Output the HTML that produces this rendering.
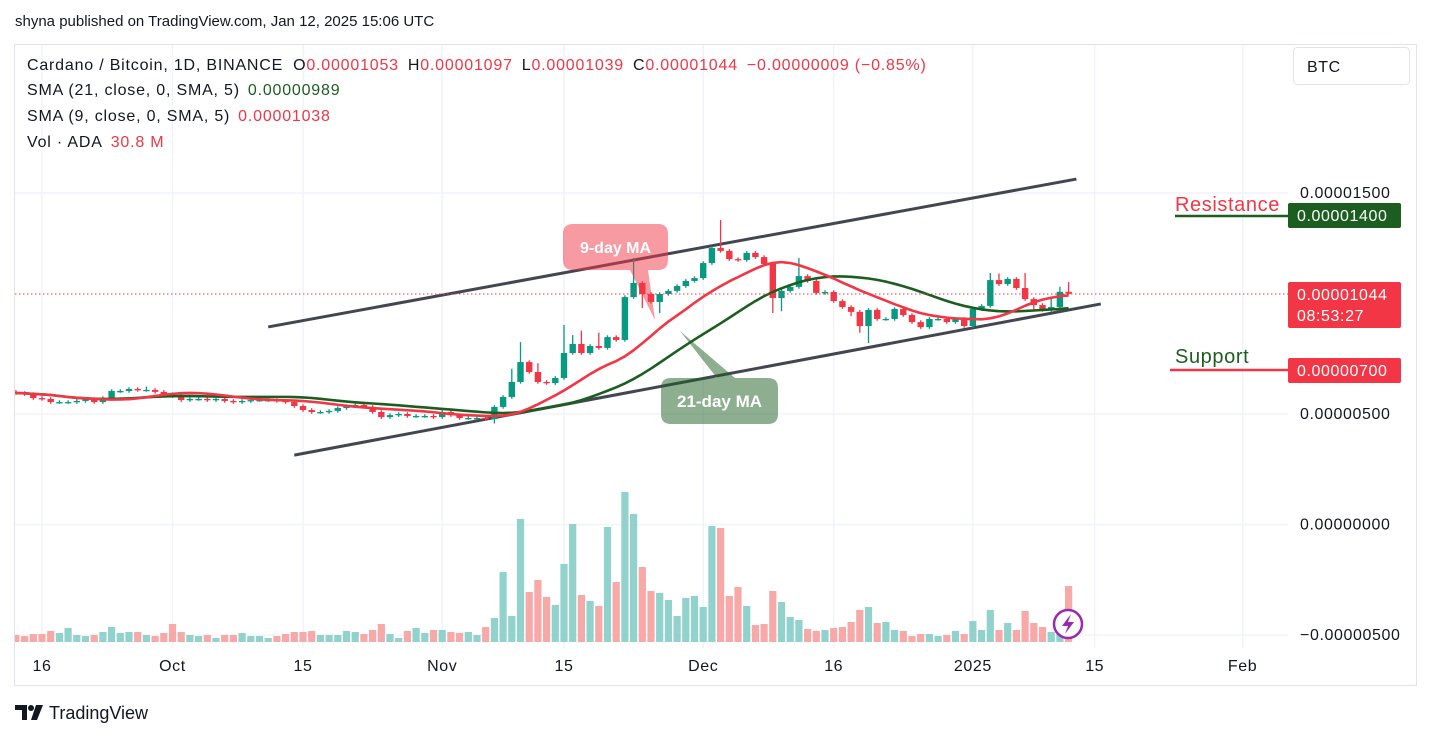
<!DOCTYPE html>
<html><head><meta charset="utf-8"><style>
html,body{margin:0;padding:0;background:#fff;}
body{width:1431px;height:738px;overflow:hidden;font-family:"Liberation Sans",Arial,sans-serif;}
svg text{font-family:"Liberation Sans",Arial,sans-serif;}
.w{letter-spacing:0.8px;}
.a{letter-spacing:0.6px;}
</style></head><body>
<svg id="chart" width="1431" height="738" viewBox="0 0 1431 738" xmlns="http://www.w3.org/2000/svg">
<defs><clipPath id="plot"><rect x="15" y="45" width="1273" height="600"/></clipPath></defs>
<rect x="0" y="0" width="1431" height="738" fill="#fff"/>
<text x="15" y="26" font-size="15" fill="#131722">shyna published on TradingView.com, Jan 12, 2025 15:06 UTC</text>
<rect x="14.5" y="44.5" width="1402" height="641" fill="none" stroke="#e0e3eb"/>
<g id="grid"></g>
<g id="vol" clip-path="url(#plot)"></g>
<g id="trend"></g>
<g id="candles" clip-path="url(#plot)"></g>
<g id="ma" clip-path="url(#plot)"></g>
<line x1="15" y1="294" x2="1288" y2="294" stroke="#f23645" stroke-width="1" stroke-dasharray="1.5,2.5"/>
<g font-size="16" class="w">
<text x="27" y="70" fill="#131722">Cardano / Bitcoin, 1D, BINANCE<tspan dx="10">O</tspan><tspan fill="#f23645">0.00001053</tspan><tspan dx="9">H</tspan><tspan fill="#f23645">0.00001097</tspan><tspan dx="9">L</tspan><tspan fill="#f23645">0.00001039</tspan><tspan dx="9">C</tspan><tspan fill="#f23645">0.00001044</tspan><tspan dx="9" fill="#f23645">−0.00000009 (−0.85%)</tspan></text>
<text x="27" y="95" fill="#131722">SMA (21, close, 0, SMA, 5)<tspan dx="8" fill="#1b5e20">0.00000989</tspan></text>
<text x="27" y="121" fill="#131722">SMA (9, close, 0, SMA, 5)<tspan dx="8" fill="#f23645">0.00001038</tspan></text>
<text x="27" y="147" fill="#131722">Vol · ADA<tspan dx="8" fill="#f23645">30.8 M</tspan></text>
</g>
<g>
<rect x="1293.5" y="47.5" width="116" height="37" rx="4" fill="#fff" stroke="#e0e3eb"/>
<text x="1307" y="72" font-size="16" class="a" fill="#131722">BTC</text>
</g>
<g id="yaxis" font-size="16" class="a" fill="#131722"></g>
<g id="xaxis" font-size="16" class="a" fill="#131722"></g>
<g>
<text x="1175" y="211" font-size="20" class="a" fill="#f23645">Resistance</text>
<line x1="1175" y1="216" x2="1288" y2="216" stroke="#1b5e20" stroke-width="2.5"/>
<rect x="1288" y="203" width="113" height="25" rx="2" fill="#1b5e20"/>
<text x="1297" y="221" font-size="16" class="a" fill="#fff">0.00001400</text>
</g>
<g>
<text x="1175" y="363" font-size="20" class="a" fill="#1b5e20">Support</text>
<line x1="1170" y1="370" x2="1288" y2="370" stroke="#f23645" stroke-width="2.5"/>
<rect x="1288" y="358" width="113" height="25" rx="2" fill="#f23645"/>
<text x="1297" y="376" font-size="16" class="a" fill="#fff">0.00000700</text>
</g>
<g>
<rect x="1288" y="282" width="113" height="46" rx="2" fill="#f23645"/>
<text x="1297" y="300" font-size="16" class="a" fill="#fff">0.00001044</text>
<text x="1297" y="321" font-size="16" class="a" fill="#fff">08:53:27</text>
</g>
<g>
<path d="M573,224 H658 Q668,224 668,234 V260 Q668,270 658,270 H648 L655,320 L630,270 H573 Q563,270 563,260 V234 Q563,224 573,224 Z" fill="#f23645" fill-opacity="0.5"/>
<text x="615.5" y="253" font-size="16" font-weight="bold" fill="#fff" text-anchor="middle">9-day MA</text>
</g>
<g>
<path d="M671,378 H717 L680,331 L735,378 H768 Q778,378 778,388 V414 Q778,424 768,424 H671 Q661,424 661,414 V388 Q661,378 671,378 Z" fill="#1b5e20" fill-opacity="0.5"/>
<text x="719.5" y="407" font-size="17" font-weight="bold" fill="#fff" text-anchor="middle">21-day MA</text>
</g>
<g>
<circle cx="1068" cy="624" r="14" fill="#fff" stroke="#9c27b0" stroke-width="2.5"/>
<path d="M1071,614 L1062,626 H1068 L1065,634 L1074,622 H1068 Z" fill="#9c27b0"/>
</g>
<g>
<path d="M15,705 H27 V720 H22 V710 H15 Z" fill="#131722"/>
<circle cx="31" cy="708" r="3" fill="#131722"/>
<path d="M36,705 H43 L37,720 H31 Z" fill="#131722"/>
<text x="49" y="719" font-size="18" fill="#131722">TradingView</text>
</g>
</svg>
<script>
// ---- data (prices in 1e-8 BTC, volume in units of ~0.55M ADA) ----
const startDay = -3; // day offset from Sep 16, 2024 of first candle
const closes = [595,590,572,568,554,554,554,559,568,554,572,604,604,613,609,609,600,590,581,563,568,568,563,568,559,554,559,563,563,563,559,554,536,518,509,509,514,527,536,541,532,509,486,495,500,491,491,491,486,509,495,482,482,482,477,
532,577,645,735,690,645,640,663,776,817,776,808,799,848,835,1029,1093,1043,1007,1043,1057,1079,1102,1115,1183,1251,1238,1201,1197,1229,1210,1179,1025,1057,1075,1124,1102,1048,1052,1011,984,962,898,971,930,930,975,948,916,893,930,930,916,930,898,975,989,1106,1088,1111,1070,1020,993,971,984,1053,1044];
const firstOpen = 600;
const wickUp = [8,8,8,8,8,8,8,8,8,8, 8,8,8,8,8,15,8,8,8,8, 8,8,8,8,8,8,8,8,8,8, 8,8,8,8,8,8,8,8,8,8, 8,8,8,8,8,8,8,8,8,8,
8,8,8,8,8,8,8,60,90,8, 40,8,8,127,40,60,8,60,8,8, 8,113,8,8,8,8,8,8,8,8, 8,127,8,8,8,8,8,8,8,8, 82,8,8,8,8,8,8,8,8,8, 8,8,8,8,8,8,8,8,8,8, 8,8,32,30,8,8,68,8,8,41, 23,44];
const wickDn = [8,8,8,8,8,8,8,8,8,8, 8,8,8,8,8,8,8,8,8,8, 8,8,8,8,8,8,8,8,8,8, 8,8,8,8,8,8,8,8,8,8, 8,8,8,8,8,8,8,8,8,8,
8,8,8,8,8,20,8,8,8,8, 8,8,8,8,8,8,8,8,8,8, 8,8,63,8,50,8,8,8,8,8, 8,8,8,8,8,8,8,68,60,8, 8,8,8,8,8,8,20,30,77,8, 8,8,8,8,8,8,8,8,8,8, 8,8,8,8,8,8,8,30,8,8, 8,5];
const volumes = [7,6,8,8,11,9,14,7,6,7,10,15,9,10,10,7,6,9,18,10,7,6,7,4,7,7,9,6,6,4,6,8,10,10,11,7,7,7,11,10,8,12,18,8,4,11,14,9,12,12,10,9,10,7,15,
24,70,26,123,50,62,
45,37,78,118,47,41,36,115,60,150,128,75,51,49,42,26,44,46,35,116,114,46,55,36,17,18,51,40,25,22,13,11,12,14,15,20,32,35,19,20,12,11,6,8,8,6,7,11,8,21,12,32,12,19,12,31,19,15,10,8,56];
const priceTicks = [1500,500,0,-500];
const priceTickLabels = ["0.00001500","0.00000500","0.00000000","−0.00000500"];
const dateTicks = [0,15,30,46,60,76,91,107,121,138];
const dateTickLabels = ["16","Oct","15","Nov","15","Dec","16","2025","15","Feb"];
const upperTrend = [[26,894],[118.9,1563]];
const lowerTrend = [[29,314],[121.7,998]];

// ---- scales ----
const X = d => 42 + d*8.7;
const Y = v => 414 - (v-500)*0.221;
const VY = h => 642 - h;
const NS = "http://www.w3.org/2000/svg";
function mk(tag, attrs, parent){const e=document.createElementNS(NS,tag);for(const k in attrs)e.setAttribute(k,attrs[k]);parent.appendChild(e);return e;}

const grid = document.getElementById('grid');
priceTicks.forEach((p,i)=>{
  const l = mk('line',{x1:15,x2:1288,y1:Y(p),y2:Y(p),stroke:'#f0f3fa','stroke-width':1.5},grid);
  
  
  const t = mk('text',{x:1300,y:Y(p)+5},document.getElementById('yaxis'));
  t.textContent = priceTickLabels[i];
  
  
});
dateTicks.forEach((d,i)=>{
  const l = mk('line',{x1:X(d),x2:X(d),y1:45,y2:648,stroke:'#f0f3fa','stroke-width':1.5},grid);
  
  
  const t = mk('text',{x:X(d),y:671,'text-anchor':'middle'},document.getElementById('xaxis'));
  t.textContent = dateTickLabels[i];
  
  
});

const opens = closes.map((c,i)=> i===0 ? firstOpen : closes[i-1]);
const vg = document.getElementById('vol'), cg = document.getElementById('candles');
closes.forEach((c,i)=>{
  const d = startDay + i, x = X(d), o = opens[i];
  const up = c >= o;
  const col = up ? '#089981' : '#f23645';
  const vb = mk('rect',{x:x-3.6,y:VY(volumes[i]),width:7.2,height:volumes[i],fill: up ? '#92d2cc' : '#f7a9a7'},vg);
  
  
  const hi = Math.max(o,c)+wickUp[i], lo = Math.min(o,c)-wickDn[i];
  const w = mk('line',{x1:x,x2:x,y1:Y(hi),y2:Y(lo),stroke:col,'stroke-width':1.3},cg);
  
  
  const top = Y(Math.max(o,c)), bh = Math.max(1.3, Y(Math.min(o,c))-top);
  const b = mk('rect',{x:x-3.2,y:top,width:6.4,height:bh,fill:col},cg);
  
  
});

function sma(arr,n){return arr.map((_,i)=>{const s=Math.max(0,i-n+1);let t=0;for(let k=s;k<=i;k++)t+=arr[k];return t/(i-s+1);});}
const ma9 = sma(sma(closes,9),5), ma21 = sma(sma(closes,21),5);
const mg = document.getElementById('ma');
[[ma21,'#1b5e20','sma-21-line'],[ma9,'#f23645','sma-9-line']].forEach(([s,col,name])=>{
  const p = mk('polyline',{points:s.map((v,i)=>X(startDay+i)+','+Y(v)).join(' '),fill:'none',stroke:col,'stroke-width':2.6,'stroke-linejoin':'round'},mg);
  
  
});
const tg = document.getElementById('trend');
[[upperTrend,'upper-channel-line'],[lowerTrend,'lower-channel-line']].forEach(([t,name])=>{
  const l = mk('line',{x1:X(t[0][0]),y1:Y(t[0][1]),x2:X(t[1][0]),y2:Y(t[1][1]),stroke:'#434651','stroke-width':3},tg);
  
  
});
</script>
</body></html>
